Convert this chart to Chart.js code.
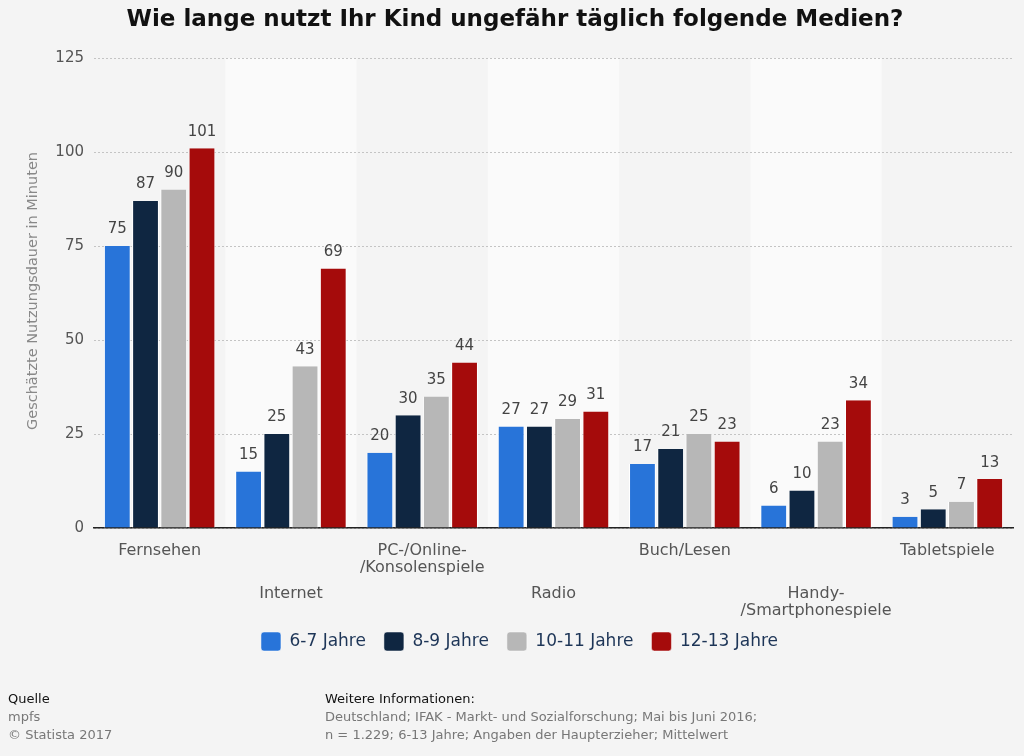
<!DOCTYPE html>
<html>
<head>
<meta charset="utf-8">
<script src="https://cdn.jsdelivr.net/npm/chart.js@4"></script>
<style>
  body { margin: 0; background: #f4f4f4; font-family: "DejaVu Sans", sans-serif; }
  .wrap { position: relative; width: 1024px; height: 756px; }
  canvas { position: absolute; left: 0; top: 0; }
  .foot { position: absolute; font-size: 13px; line-height: 18px; color: #777; }
  .foot b { font-weight: normal; color: #111; }
</style>
</head>
<body>
<div class="wrap">
  <canvas id="chart" width="1024" height="756"></canvas>
  <div class="foot" style="left:8px; top:690px;"><b>Quelle</b><br>mpfs<br>© Statista 2017</div>
  <div class="foot" style="left:325px; top:690px;"><b>Weitere Informationen:</b><br>Deutschland; IFAK - Markt- und Sozialforschung; Mai bis Juni 2016;<br>n = 1.229; 6-13 Jahre; Angaben der Haupterzieher; Mittelwert</div>
</div>
<script>
// Daten
const categories = [
  ['Fernsehen'],
  ['Internet'],
  ['PC-/Online-', '/Konsolenspiele'],
  ['Radio'],
  ['Buch/Lesen'],
  ['Handy-', '/Smartphonespiele'],
  ['Tabletspiele']
];
const age6to7 = [75, 15, 20, 27, 17, 6, 3];
const age8to9 = [87, 25, 30, 27, 21, 10, 5];
const age10to11 = [90, 43, 35, 29, 25, 23, 7];
const age12to13 = [101, 69, 44, 31, 23, 34, 13];
const seriesNames = ['6-7 Jahre', '8-9 Jahre', '10-11 Jahre', '12-13 Jahre'];
const seriesColors = ['#2874d9', '#0f2641', '#b7b7b7', '#a50b0b'];
const yTicks = [0, 25, 50, 75, 100, 125];

const titleText = 'Wie lange nutzt Ihr Kind ungefähr täglich folgende Medien?';
const yTitle = 'Geschätzte Nutzungsdauer in Minuten';

const font = '"DejaVu Sans", sans-serif';

// abwechselnde Hintergrundstreifen
const bandsPlugin = {
  id: 'bands',
  beforeDraw(chart) {
    const ctx = chart.ctx;
    const x = chart.scales.x;
    const area = chart.chartArea;
    const step = x.getPixelForValue(1) - x.getPixelForValue(0);
    ctx.save();
    ctx.fillStyle = '#fafafa';
    for (let i = 1; i < categories.length; i += 2) {
      const cx = x.getPixelForValue(i);
      ctx.fillRect(cx - step / 2, area.top, step, area.bottom - area.top);
    }
    ctx.restore();
  }
};

// Beschriftungen: Titel, Werte, x-Labels (versetzt), y-Titel
const labelsPlugin = {
  id: 'labels',
  afterDatasetsDraw(chart) {
    const ctx = chart.ctx;
    ctx.save();
    ctx.textAlign = 'center';
    ctx.textBaseline = 'middle';
    ctx.font = 'bold 23px ' + font;
    ctx.fillStyle = '#111';
    ctx.fillText(titleText, 515, 20);

    ctx.font = '15px ' + font;
    ctx.fillStyle = '#444';
    ctx.textBaseline = 'bottom';
    chart.data.datasets.forEach((ds, di) => {
      chart.getDatasetMeta(di).data.forEach((bar, i) => {
        ctx.fillText(ds.data[i], bar.x, bar.y - 9);
      });
    });

    const x = chart.scales.x;
    ctx.font = '16px ' + font;
    ctx.fillStyle = '#555';
    ctx.textBaseline = 'middle';
    categories.forEach((lines, i) => {
      const cx = x.getPixelForValue(i);
      const y0 = i % 2 === 0 ? 551 : 594;
      lines.forEach((line, li) => ctx.fillText(line, cx, y0 + li * 17));
    });

    ctx.translate(33, 291);
    ctx.rotate(-Math.PI / 2);
    ctx.font = '14.5px ' + font;
    ctx.fillStyle = '#888';
    ctx.fillText(yTitle, 0, 0);
    ctx.restore();
  }
};

const ageData = [age6to7, age8to9, age10to11, age12to13];

new Chart(document.getElementById('chart'), {
  type: 'bar',
  data: {
    labels: categories.map(c => c.join(' ')),
    datasets: seriesNames.map((name, i) => ({
      label: name,
      data: ageData[i],
      backgroundColor: seriesColors[i],
      borderColor: '#ffffff',
      borderWidth: { top: 0, left: 1, right: 1, bottom: 0 },
      categoryPercentage: 0.86,
      barPercentage: 0.95
    }))
  },
  options: {
    responsive: false,
    animation: false,
    layout: { padding: { left: 26, top: 58, right: 11, bottom: 95 } },
    plugins: {
      title: { display: false },
      legend: {
        position: 'bottom',
        labels: {
          font: { family: font, size: 17 },
          color: '#1d3557',
          boxWidth: 20,
          boxHeight: 19,
          padding: 18,
          useBorderRadius: true,
          borderRadius: 3
        }
      },
      tooltip: { enabled: false }
    },
    scales: {
      x: {
        grid: { display: false },
        border: { display: true, color: '#222', width: 1.5 },
        ticks: { display: false },
        afterFit(scale) { scale.height = 86; }
      },
      y: {
        min: 0,
        max: 125,
        afterBuildTicks(scale) { scale.ticks = yTicks.map(v => ({ value: v })); },
        afterFit(scale) { scale.width = 68; },
        border: { display: false, dash: [2, 2] },
        grid: { color: '#c4c4c4', drawTicks: false, lineWidth: 1 },
        ticks: { font: { family: font, size: 15 }, color: '#555', padding: 10 }
      }
    }
  },
  plugins: [bandsPlugin, labelsPlugin]
});
</script>
</body>
</html>
